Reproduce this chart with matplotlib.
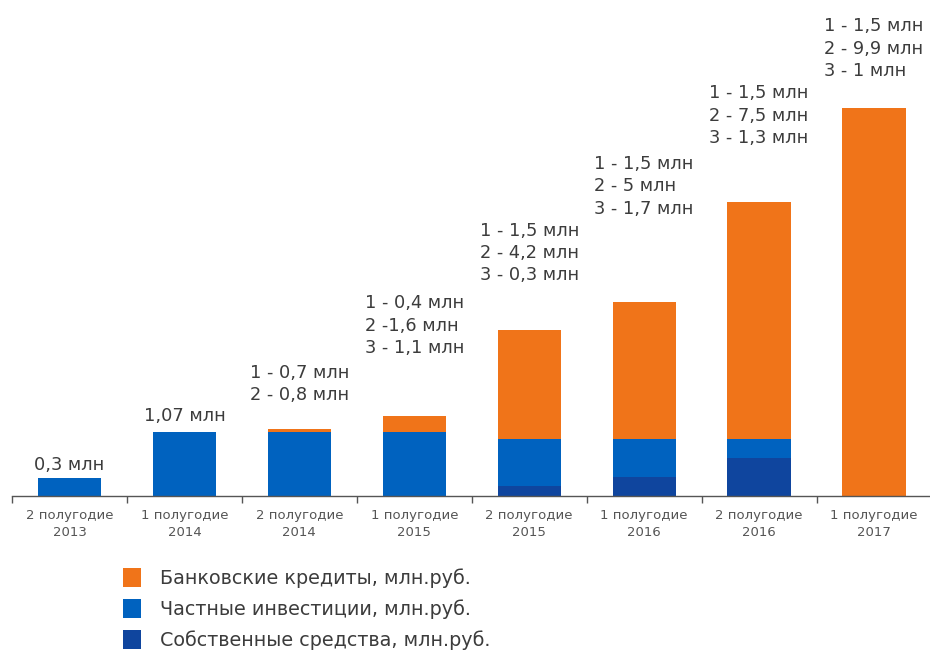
import matplotlib
matplotlib.use("Agg")
import matplotlib.pyplot as plt
from matplotlib.patches import Patch
import numpy as np

# Periods (half-years)
periods = ["2 полугодие\n2013", "1 полугодие\n2014", "2 полугодие\n2014",
           "1 полугодие\n2015", "2 полугодие\n2015", "1 полугодие\n2016",
           "2 полугодие\n2016", "1 полугодие\n2017"]

# Segment heights (relative scale, млн)
own_funds = [0.0, 0.0, 0.0, 0.0, 0.17, 0.32, 0.64, 0.0]
private_inv = [0.3, 1.07, 1.07, 1.07, 0.79, 0.64, 0.32, 0.0]
bank_loans = [0.0, 0.0, 0.05, 0.27, 1.81, 2.29, 3.96, 6.49]

# Figures quoted above the bars (1 / 2 / 3)
note_1 = [None, None, "0,7", "0,4", "1,5", "1,5", "1,5", "1,5"]
note_2 = [None, None, "0,8", "1,6", "4,2", "5", "7,5", "9,9"]
note_3 = [None, None, None, "1,1", "0,3", "1,7", "1,3", "1"]

series_names = ["Банковские кредиты, млн.руб.",
                "Частные инвестиции, млн.руб.",
                "Собственные средства, млн.руб."]

c_bank = "#F07419"
c_priv = "#0062BF"
c_own = "#0F459E"
txt = "#3C3C3C"

W, H = 930, 650
fig = plt.figure(figsize=(W / 100, H / 100), dpi=100)
base_px = 496
ax = fig.add_axes([12 / W, 1 - base_px / H, 919.5 / W, base_px / H])

x = np.arange(len(periods))
own = np.array(own_funds)
priv = np.array(private_inv)
bank = np.array(bank_loans)
bw = 0.55

ax.bar(x, own, bw, color=c_own, linewidth=0)
ax.bar(x, priv, bw, bottom=own, color=c_priv, linewidth=0)
ax.bar(x, bank, bw, bottom=own + priv, color=c_bank, linewidth=0)

ax.set_xlim(-0.5, 7.5)
ax.set_ylim(0, base_px / 59.8)

for s in ["top", "right", "left"]:
    ax.spines[s].set_visible(False)
ax.spines["bottom"].set_color("#555555")
ax.spines["bottom"].set_linewidth(1.0)
ax.set_yticks([])

ax.set_xticks(x)
ax.set_xticklabels(periods, fontsize=9.5, color="#555555", linespacing=1.5,
                   family="DejaVu Sans")
ax.tick_params(axis="x", which="major", length=0, pad=9)
ax.set_xticks(np.arange(-0.5, 8.0, 1.0), minor=True)
ax.tick_params(axis="x", which="minor", length=5, width=1.0, color="#555555",
               direction="out")

tops = own + priv + bank

# Gap between bar top and label block (px)
gaps_px = [4, 7, 25, 59, 46, 84, 55, 28]

for i in range(len(periods)):
    if note_1[i] is None:
        label = f"{priv[i]:g}".replace(".", ",") + " млн"
    else:
        lines = [f"1 - {note_1[i]} млн"]
        if note_2[i] is not None:
            sep = " -" if i == 3 else " - "
            lines.append(f"2{sep}{note_2[i]} млн")
        if note_3[i] is not None:
            lines.append(f"3 - {note_3[i]} млн")
        label = "\n".join(lines)
    ax.annotate(label, xy=(x[i], tops[i]), xytext=(0, gaps_px[i] * 0.72),
                textcoords="offset points", ha="center", va="bottom",
                multialignment="left", fontsize=12.8, color=txt,
                linespacing=1.3, family="DejaVu Sans", annotation_clip=False)

handles = [Patch(facecolor=c_bank, edgecolor="none"),
           Patch(facecolor=c_priv, edgecolor="none"),
           Patch(facecolor=c_own, edgecolor="none")]
leg = fig.legend(handles, series_names, loc="upper left",
                 bbox_to_anchor=(123 / W, 1 - 568 / H), frameon=False,
                 handlelength=0.95, handleheight=1.15,
                 handletextpad=1.0, labelspacing=0.58, borderpad=0,
                 borderaxespad=0, prop={"family": "DejaVu Sans", "size": 13.8})
for t in leg.get_texts():
    t.set_color(txt)

fig.savefig("out.png", dpi=100)
